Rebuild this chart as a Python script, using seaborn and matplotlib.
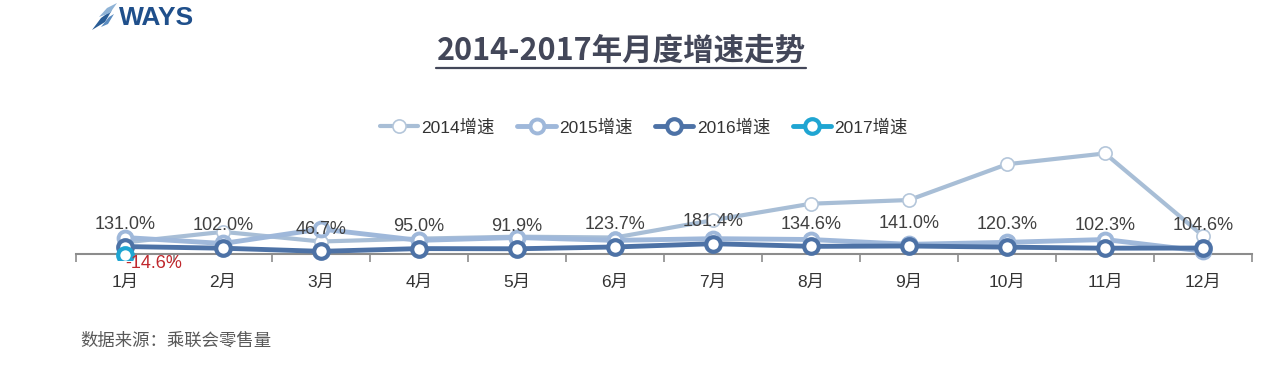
import matplotlib
matplotlib.use("Agg")
import matplotlib.pyplot as plt
import seaborn as sns
import pandas as pd
import numpy as np
from matplotlib.lines import Line2D
from matplotlib.patches import Polygon

months = ["1月", "2月", "3月", "4月", "5月", "6月", "7月", "8月", "9月", "10月", "11月", "12月"]
g2014 = [204, 390, 220, 270, 305, 290, 595, 885, 950, 1580, 1770, 320]
g2015 = [290, 185, 440, 240, 290, 240, 270, 255, 170, 205, 255, 50]
g2016 = [131.0, 102.0, 46.7, 95.0, 91.9, 123.7, 181.4, 134.6, 141.0, 120.3, 102.3, 104.6]
g2017 = [-14.6]
series_names = ["2014增速", "2015增速", "2016增速", "2017增速"]
title_text = "2014-2017年月度增速走势"
source_text = "数据来源：乘联会零售量"

sns.set_theme(style="white")
plt.rcParams['font.family'] = ['Liberation Sans', 'Noto Sans CJK SC', 'DejaVu Sans']

fig = plt.figure(figsize=(12.8, 3.66), dpi=100)
W, H = 1280, 366
ax_left = 76 / W
ax_right = 1252 / W
ylo, yhi = -100, 1900
scale = 17.6
ax_h_px = (yhi - ylo) / scale
bottom_px = 254 + (0 - ylo) / scale
ax = fig.add_axes([ax_left, (H - bottom_px) / H, ax_right - ax_left, ax_h_px / H])

idx = list(range(len(months)))
df = pd.DataFrame({"m": idx, "2014": g2014, "2015": g2015, "2016": g2016})
df17 = pd.DataFrame({"m": idx[:len(g2017)], "2017": g2017})

styles = {
    "2014": dict(color="#a8bed6", linewidth=3.0, marker="o", markersize=9.5,
                 markerfacecolor="white", markeredgecolor="#b4c6da", markeredgewidth=1.2),
    "2015": dict(color="#9fb8da", linewidth=3.5, marker="o", markersize=10,
                 markerfacecolor="white", markeredgecolor="#9fb8da", markeredgewidth=2.8),
    "2016": dict(color="#4d72a6", linewidth=3.5, marker="o", markersize=10.5,
                 markerfacecolor="white", markeredgecolor="#4d72a6", markeredgewidth=3.0),
    "2017": dict(color="#1fa5d2", linewidth=3.5, marker="o", markersize=10.5,
                 markerfacecolor="white", markeredgecolor="#1fa5d2", markeredgewidth=3.0),
}
z = {"2014": 2, "2015": 3, "2016": 4, "2017": 5}
for key in ["2014", "2015", "2016"]:
    sns.lineplot(data=df, x="m", y=key, ax=ax, sort=False, zorder=z[key], **styles[key])
sns.lineplot(data=df17, x="m", y="2017", ax=ax, sort=False, zorder=z["2017"], **styles["2017"])

# data labels for 2016 series
for i, v in enumerate(g2016):
    ax.annotate(f"{v:.1f}%", (i, v), xytext=(0, 16), textcoords="offset points",
                ha="center", va="center", fontsize=13, color="#404040", zorder=10)
ax.annotate(f"{g2017[0]:.1f}%", (0, g2017[0]), xytext=(21, -6.5), textcoords="offset points",
            ha="center", va="center", fontsize=13, color="#c0282d", zorder=10)

ax.set_xlim(-0.5, len(months) - 0.5)
ax.set_ylim(ylo, yhi)
for s in ["left", "right", "top"]:
    ax.spines[s].set_visible(False)
ax.spines["bottom"].set_position(("data", 0))
ax.spines["bottom"].set_color("#8c8c8c")
ax.spines["bottom"].set_linewidth(1.5)
ax.set_yticks([])
ax.set_xticks(idx)
ax.set_xticklabels(months, fontsize=12.5, color="#333333")
ax.set_xticks(np.arange(-0.5, len(months), 1.0), minor=True)
ax.tick_params(axis="x", which="major", length=0, pad=15)
ax.tick_params(axis="x", which="minor", length=6, width=1.2, color="#8c8c8c", direction="out", bottom=True)
ax.set_xlabel("")
ax.set_ylabel("")
ax.patch.set_alpha(0)

# legend
handles = [Line2D([], [], **styles[k]) for k in ["2014", "2015", "2016", "2017"]]
fig.legend(handles, series_names, loc="center", bbox_to_anchor=(0.503, 1 - 127 / H),
           ncol=4, frameon=False, fontsize=12.5, handlelength=2.2, handletextpad=0.2,
           columnspacing=1.3, labelcolor="#333333")

# title with underline
t = fig.text(621 / W, 1 - 51 / H, title_text, ha="center", va="center", fontsize=22,
             fontweight="bold", color="#434759", family=['Noto Sans CJK SC', 'DejaVu Sans'])
fig.canvas.draw()
bb = t.get_window_extent(renderer=fig.canvas.get_renderer())
uy = 1 - 68 / H
fig.add_artist(Line2D([bb.x0 / W, bb.x1 / W], [uy, uy], color="#434759", linewidth=1.6,
                      transform=fig.transFigure))

# logo
fig.text(119 / W, 1 - 18 / H, "WAYS", ha="left", va="center", fontsize=19, fontweight="bold",
         color="#1f4f8b", family=['Liberation Sans'])
def px(x, y):
    return (x / W, 1 - y / H)
fig.add_artist(Polygon([px(92, 30), px(101, 18), px(112, 10), px(105, 22)], closed=True,
                       facecolor="#2a5d96", edgecolor="none", transform=fig.transFigure))
fig.add_artist(Polygon([px(99, 17), px(107, 8), px(117, 3), px(110, 13)], closed=True,
                       facecolor="#8fb3d6", edgecolor="none", transform=fig.transFigure))
fig.add_artist(Polygon([px(101, 27), px(109, 17), px(114, 14), px(108, 24)], closed=True,
                       facecolor="#5b8cc0", edgecolor="none", transform=fig.transFigure))

# source
fig.text(80 / W, 1 - 341 / H, source_text, ha="left", va="center", fontsize=12.5, color="#595959")

fig.savefig("out.png", dpi=100)
